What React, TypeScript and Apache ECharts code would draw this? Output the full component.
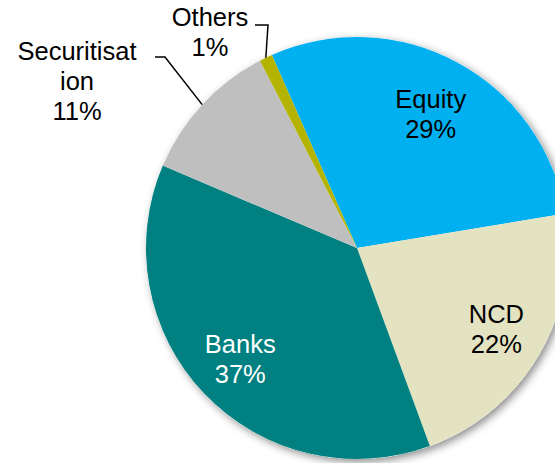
import React, { useEffect, useRef } from "react";
import * as echarts from "echarts";

const categories = ["Equity", "NCD", "Banks", "Securitisation", "Others"];
const labelTexts = ["Equity", "NCD", "Banks", "Securitisat\nion", "Others"];
const shares = [29, 22, 37, 11, 1];
const colors = ["#00B0F0", "#E3E3C2", "#008080", "#BFBFBF", "#B4B400"];
const labelColors = ["#000000", "#000000", "#FFFFFF", "#000000", "#000000"];

const FONT = "'Liberation Sans', Arial, sans-serif";

export default function App() {
  const ref = useRef<HTMLDivElement>(null);
  useEffect(() => {
    if (!ref.current) return;
    const chart = echarts.init(ref.current, undefined, { renderer: "svg" });
    const center = [357, 248];
    const R = 211;
    const startAngle = 113.8;
    chart.setOption({
      animation: false,
      backgroundColor: "#ffffff",
      series: [
        {
          type: "pie",
          silent: true,
          center,
          radius: [0, R],
          label: { show: false },
          labelLine: { show: false },
          itemStyle: {
            color: "#ffffff",
            shadowBlur: 8,
            shadowColor: "rgba(0,0,0,0.45)",
            shadowOffsetX: 3,
            shadowOffsetY: 3,
          },
          data: [{ value: 1, name: "bg" }],
          z: 1,
        },
        {
          type: "pie",
          silent: true,
          center,
          radius: [0, R],
          startAngle,
          clockwise: true,
          label: { show: false },
          labelLine: { show: false },
          data: categories.map((c, i) => ({
            name: c,
            value: shares[i],
            itemStyle: { color: colors[i], borderWidth: 0 },
          })),
          z: 2,
        },
        {
          type: "pie",
          silent: true,
          center,
          radius: [R * 0.5, R],
          startAngle,
          clockwise: true,
          avoidLabelOverlap: false,
          itemStyle: { color: "rgba(0,0,0,0)" },
          labelLayout: (params: any) => {
            const p0 = params.labelLinePoints ? params.labelLinePoints[0] : null;
            if (params.dataIndex === 0) {
              return { dx: -3, dy: 8 };
            }
            if (params.dataIndex === 4) {
              return {
                x: 210,
                y: 32,
                align: "center",
                verticalAlign: "middle",
                labelLinePoints: p0 ? [p0, [268, 25], [255, 25]] : undefined,
              };
            }
            if (params.dataIndex === 3) {
              return {
                x: 77,
                y: 81,
                align: "center",
                verticalAlign: "middle",
                labelLinePoints: p0 ? [p0, [165, 57], [155, 57]] : undefined,
              };
            }
            return {};
          },
          data: categories.map((c, i) => {
            const outside = i >= 3;
            return {
              name: c,
              value: shares[i],
              label: {
                show: true,
                position: outside ? "outside" : "inside",
                formatter: labelTexts[i] + "\n" + shares[i] + "%",
                color: labelColors[i],
                fontFamily: FONT,
                fontSize: 25.5,
                lineHeight: 30,
                align: "center",
              },
              labelLine: {
                show: outside,
                length: 20,
                length2: 10,
                smooth: false,
                lineStyle: { color: "#000000", width: 1.5 },
              },
            };
          }),
          z: 3,
        },
      ],
    });
    return () => chart.dispose();
  }, []);
  return (
    <div
      ref={ref}
      style={{ position: "absolute", left: 0, top: 0, width: 555, height: 463 }}
    />
  );
}
